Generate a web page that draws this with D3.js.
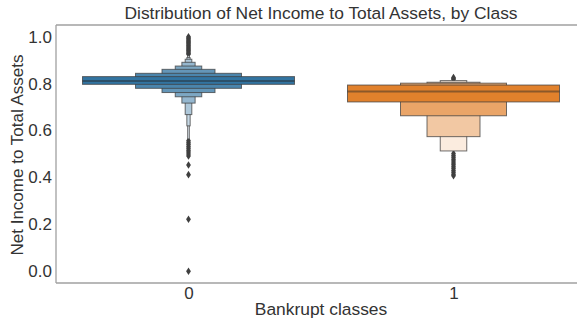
<!DOCTYPE html>
<html>
<head>
<meta charset="utf-8">
<script src="https://cdn.jsdelivr.net/npm/d3@7"></script>
<style>
  html, body { margin: 0; padding: 0; background: #fff; }
  svg { display: block; font-family: "Liberation Sans", Arial, sans-serif; }
</style>
</head>
<body>
<svg id="chart" width="577" height="324"></svg>
<script>
// Letter-value (boxen) summary of Net Income to Total Assets per bankruptcy class
const categories = ["0", "1"];
const classColors = ["#3274a1", "#e1812c"];
const medians = [0.811, 0.766];

// Letter-value box ends, from the innermost (widest) box outwards
const boxLower0 = [0.797, 0.780, 0.762, 0.744, 0.717, 0.668, 0.620, 0.564];
const boxUpper0 = [0.830, 0.844, 0.861, 0.875, 0.891, 0.904, 0.911, 0.920];
const boxLower1 = [0.722, 0.663, 0.574, 0.513];
const boxUpper1 = [0.794, 0.802, 0.806, 0.813];

// Points beyond the outermost letter values
const outliers0 = [1.0, 0.995, 0.99, 0.985, 0.98, 0.975, 0.97, 0.965, 0.96, 0.955, 0.95, 0.945,
                   0.94, 0.935, 0.93, 0.925,
                   0.556, 0.548, 0.54, 0.532, 0.524, 0.516, 0.508, 0.50, 0.492,
                   0.453, 0.412, 0.222, 0.0];
const outliers1 = [0.818, 0.822, 0.826, 0.502, 0.494, 0.486, 0.478, 0.47, 0.462, 0.454,
                   0.446, 0.438, 0.43, 0.422, 0.414, 0.407];

const yTicks = [0.0, 0.2, 0.4, 0.6, 0.8, 1.0];

const boxLower = [boxLower0, boxLower1];
const boxUpper = [boxUpper0, boxUpper1];
const outliers = [outliers0, outliers1];

const W = 577, H = 324;
const margin = { left: 56, top: 25, right: -9, bottom: 41 };
const plotR = W - margin.right, plotB = H - margin.bottom;

const svg = d3.select("#chart");

const x = d3.scaleLinear().domain([-0.5, 1.5]).range([margin.left, plotR]);
const y = d3.scaleLinear().domain([-0.05, 1.05]).range([plotB, margin.top]);
const boxWidth = 0.8;
const edgeGray = "#3f3f3f";
const textColor = "#333";
const font = "Liberation Sans, Arial, sans-serif";

const plot = svg.append("g");

categories.forEach((cat, ci) => {
  const xc = x(ci);
  const full = x(boxWidth) - x(0);
  const k = boxLower[ci].length;
  const base = d3.color(classColors[ci]);
  const light = d3.interpolateRgb(base, "#ffffff")(0.85);
  const shade = d3.interpolateRgb(base, light);

  // outliers sit beneath the boxes
  plot.append("g").selectAll("path")
    .data(outliers[ci])
    .join("path")
    .attr("transform", d => `translate(${xc},${y(d)})`)
    .attr("d", "M0,-3.8L2.4,0L0,3.8L-2.4,0Z")
    .attr("fill", edgeGray);

  // narrow outer boxes first so wider inner boxes overlay them
  const boxes = d3.range(k).map(i => ({
    lo: boxLower[ci][i], hi: boxUpper[ci][i],
    w: full * Math.pow(2, -i),
    color: shade(k > 1 ? i / (k - 1) : 0)
  })).reverse();

  plot.append("g").selectAll("rect")
    .data(boxes)
    .join("rect")
    .attr("x", d => xc - d.w / 2)
    .attr("width", d => d.w)
    .attr("y", d => y(d.hi))
    .attr("height", d => y(d.lo) - y(d.hi))
    .attr("fill", d => d.color)
    .attr("stroke", edgeGray)
    .attr("stroke-opacity", 0.75)
    .attr("stroke-width", 1);

  plot.append("line")
    .attr("x1", xc - full / 2).attr("x2", xc + full / 2)
    .attr("y1", y(medians[ci])).attr("y2", y(medians[ci]))
    .attr("stroke", "#262626").attr("stroke-opacity", 0.45)
    .attr("stroke-width", 2);
});

// axes
const yAxis = d3.axisLeft(y).tickValues(yTicks).tickFormat(d3.format(".1f")).tickSize(0).tickPadding(4);
const gy = svg.append("g").attr("transform", `translate(${margin.left},0)`).call(yAxis);
gy.select(".domain").remove();
gy.selectAll("text").attr("font-size", 17).attr("fill", textColor).attr("font-family", font);

const xAxis = d3.axisBottom(x).tickValues([0, 1]).tickFormat(i => categories[i]).tickSize(0).tickPadding(4);
const gx = svg.append("g").attr("transform", `translate(0,${plotB})`).call(xAxis);
gx.select(".domain").remove();
gx.selectAll("text").attr("font-size", 17).attr("fill", textColor).attr("font-family", font);

// frame
const spine = { stroke: "#a0a0a0", width: 1.3 };
svg.append("line").attr("x1", margin.left).attr("x2", margin.left).attr("y1", margin.top).attr("y2", plotB)
  .attr("stroke", spine.stroke).attr("stroke-width", spine.width);
svg.append("line").attr("x1", margin.left).attr("x2", plotR).attr("y1", plotB).attr("y2", plotB)
  .attr("stroke", spine.stroke).attr("stroke-width", spine.width);
svg.append("line").attr("x1", margin.left).attr("x2", plotR).attr("y1", margin.top).attr("y2", margin.top)
  .attr("stroke", spine.stroke).attr("stroke-width", spine.width);

// labels
const midX = (margin.left + plotR) / 2;
svg.append("text").attr("x", midX).attr("y", 19).attr("text-anchor", "middle")
  .attr("font-size", 17.4).attr("fill", textColor)
  .text("Distribution of Net Income to Total Assets, by Class");
svg.append("text").attr("x", midX).attr("y", 315).attr("text-anchor", "middle")
  .attr("font-size", 17.4).attr("fill", textColor)
  .text("Bankrupt classes");
svg.append("text")
  .attr("transform", `translate(23,${(margin.top + plotB) / 2 + 1}) rotate(-90)`)
  .attr("text-anchor", "middle")
  .attr("font-size", 17).attr("fill", textColor)
  .text("Net Income to Total Assets");
</script>
</body>
</html>
